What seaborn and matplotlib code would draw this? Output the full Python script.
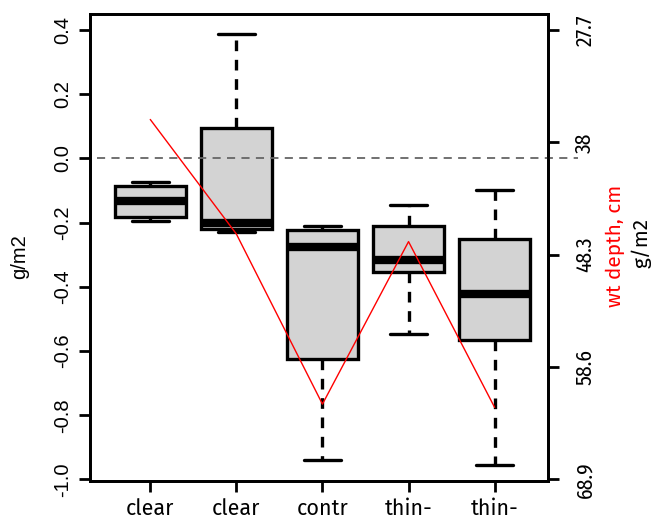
import numpy as np
import pandas as pd
import matplotlib
matplotlib.use("Agg")
import matplotlib.pyplot as plt
import seaborn as sns

# ---- data ----
groups = ["clear1", "clear2", "contr", "thin1", "thin2"]
tick_labels = ["clear", "clear", "contr", "thin-", "thin-"]
# five-number summaries (min, Q1, median, Q3, max) in g/m2
box_min = [-0.196, -0.230, -0.939, -0.547, -0.955]
box_q1 = [-0.184, -0.221, -0.625, -0.355, -0.566]
box_med = [-0.134, -0.202, -0.277, -0.317, -0.423]
box_q3 = [-0.087, 0.096, -0.224, -0.209, -0.252]
box_max = [-0.072, 0.389, -0.211, -0.146, -0.0995]
# water table depth, cm (right axis)
wt_depth = [35.9, 46.4, 62.0, 47.1, 62.3]
right_ticks = [27.7, 38, 48.3, 58.6, 68.9]
left_ticks = [0.4, 0.2, 0.0, -0.2, -0.4, -0.6, -0.8, -1.0]

rows = []
for g, a, b, c, d, e in zip(groups, box_min, box_q1, box_med, box_q3, box_max):
    for v in (a, b, c, d, e):
        rows.append({"group": g, "value": v})
df = pd.DataFrame(rows)

sns.set_style("white")
plt.rcParams["font.family"] = ["Liberation Sans", "DejaVu Sans"]
for k in ("text.color", "axes.labelcolor", "xtick.color", "ytick.color", "axes.edgecolor"):
    plt.rcParams[k] = "black"

ARIAL = ["Liberation Sans", "DejaVu Sans"]
FIRA = ["Fira Sans", "DejaVu Sans"]
FIRAC = ["Fira Sans Condensed", "DejaVu Sans"]

fig = plt.figure(figsize=(6.56, 5.23), dpi=100)
ax = fig.add_axes([90 / 656, 1 - 481 / 523, 458 / 656, 467 / 523])

lw = 2.4
sns.boxplot(data=df, x="group", y="value", order=groups, ax=ax,
            color="#D3D3D3", linecolor="black", linewidth=lw, width=0.83,
            whis=(0, 100), fill=True,
            medianprops=dict(linewidth=6, color="black", solid_capstyle="butt"),
            whiskerprops=dict(linestyle=(0, (3.2, 2.6)), linewidth=lw),
            capprops=dict(linewidth=lw),
            boxprops=dict(edgecolor="black", linewidth=lw, facecolor="#D3D3D3"))

# cap widths like R (half of the box width)
for line in ax.lines:
    xd = np.asarray(line.get_xdata(), dtype=float)
    yd = np.asarray(line.get_ydata(), dtype=float)
    if len(xd) == 2 and yd[0] == yd[1] and abs(xd[1] - xd[0]) > 0 and line.get_linewidth() < 4:
        c = xd.mean()
        line.set_xdata([c - 0.215, c + 0.215])

ax.axhline(0, xmin=0.015, xmax=1.066, color="#666666", lw=1.3,
           linestyle=(0, (4.5, 3.5)), clip_on=False, zorder=5)

ax.set_xlim(-0.7, 4.62)
ax.set_ylim(-1.005, 0.45)
ax.set_yticks(left_ticks)
ax.set_yticklabels([f"{t:.1f}" for t in left_ticks], rotation=90, va="center",
                   fontsize=14.5, family=ARIAL)
ax.set_xticks(range(len(groups)))
ax.set_xticklabels(tick_labels, fontsize=15.5, family=FIRA)
ax.set_xlabel("")
ax.set_ylabel("")
fig.text(20 / 656, 1 - 257 / 523, "g/m2", rotation=90, ha="center", va="center",
         fontsize=14.5, family=ARIAL)
ax.tick_params(axis="both", direction="out", length=8, width=2, color="black",
               left=True, bottom=True)
ax.tick_params(axis="y", pad=5)
ax.tick_params(axis="x", pad=4)
for s in ax.spines.values():
    s.set_visible(True)
    s.set_color("black")
    s.set_linewidth(2)

ax2 = ax.twinx()
sns.lineplot(x=groups, y=wt_depth, sort=False, ax=ax2, color="red", lw=1)
ax2.set_ylim(69.05, 26.23)
ax2.set_xlim(-0.7, 4.62)
ax2.set_yticks(right_ticks)
ax2.set_yticklabels([f"{t:g}" for t in right_ticks], rotation=90, va="center",
                    fontsize=15.5, family=FIRAC)
ax2.tick_params(axis="y", direction="out", length=8, width=2, color="black",
                right=True, pad=11)
for s in ax2.spines.values():
    s.set_linewidth(2)
    s.set_color("black")
ax2.set_ylabel("")
fig.text(615 / 656, 1 - 246 / 523, "wt depth, cm", rotation=90, ha="center",
         va="center", color="red", fontsize=15, family=FIRA)
fig.text(641 / 656, 1 - 243 / 523, "g/m2", rotation=90, ha="center", va="center",
         fontsize=15, family=FIRA)

fig.savefig("out.png", dpi=100)
